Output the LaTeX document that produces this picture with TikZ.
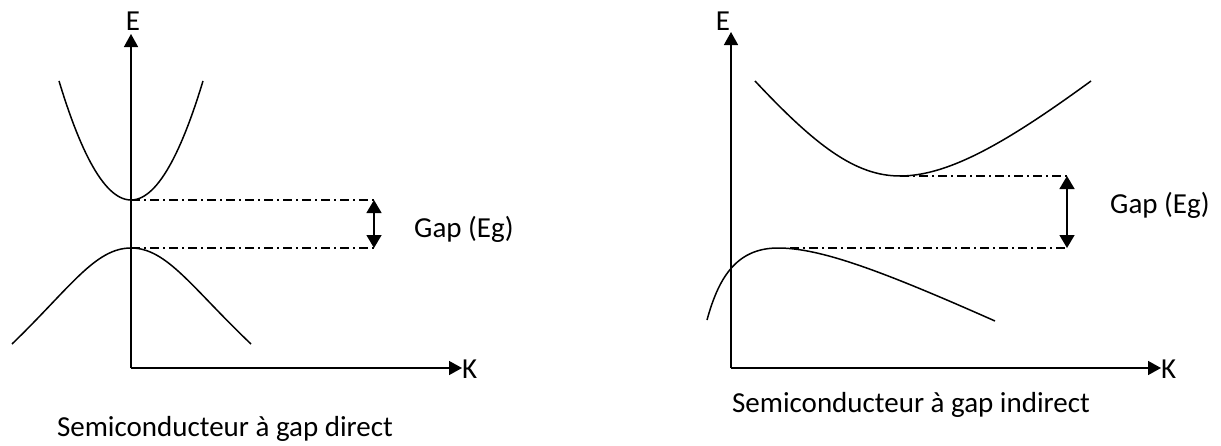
\documentclass[tikz,border=0pt]{standalone}
\usepackage{fontspec}
\setmainfont{Carlito}
\usetikzlibrary{arrows.meta}
\begin{document}
\begin{tikzpicture}[x=1pt,y=-1pt,
  curve/.style={line width=1.5pt},
  axis/.style={line width=1.5pt,-{Triangle[length=13pt,width=14pt]}},
  gaparrow/.style={line width=1.5pt,{Triangle[length=13pt,width=15pt]}-{Triangle[length=13pt,width=15pt]}},
  dashdot/.style={line width=1.1pt,dash pattern=on 9pt off 4pt on 2pt off 4pt},
  lbl/.style={inner sep=0pt,font=\fontsize{29}{34}\selectfont}]
\useasboundingbox (0,0) rectangle (1221,445);
% ---------- left: direct gap ----------
\coordinate (O1) at (131,368);
\coordinate (Ey1) at (131,34);
\coordinate (Kx1) at (462,368);
\draw[axis] (O1) -- (Ey1);
\draw[axis] (O1) -- (Kx1);
\node[lbl] (E1) at (133,21) {E};
\node[lbl,anchor=west] (K1) at (462,369) {K};
\coordinate (cmin1) at (131,200);
\coordinate (vmax1) at (131,248);
\draw[curve] plot[domain=-72:72,samples=60] ({131+\x},{200-0.02296*\x*\x});
\draw[curve] (12,344) .. controls (70,288) and (95,248) .. (vmax1) .. controls (167,248) and (192,288) .. (251,344);
\coordinate (d1a) at (374,200);
\coordinate (d1b) at (374,248);
\draw[dashdot] (cmin1) -- (d1a);
\draw[dashdot] (vmax1) -- (d1b);
\draw[gaparrow] (d1a) -- (d1b);
\node[lbl,anchor=west] (G1) at (414,229) {Gap (Eg)};
\node[lbl] (C1) at (225,429) {Semiconducteur à gap direct};
% ---------- right: indirect gap ----------
\coordinate (O2) at (731,368);
\coordinate (Ey2) at (731,32);
\coordinate (Kx2) at (1161,368);
\draw[axis] (O2) -- (Ey2);
\draw[axis] (O2) -- (Kx2);
\node[lbl] (E2) at (723,21) {E};
\node[lbl,anchor=west] (K2) at (1161,369) {K};
\coordinate (cmin2) at (900,176);
\coordinate (vmax2) at (778,248);
\draw[curve] (755,81) .. controls (815,145) and (855,176) .. (cmin2) .. controls (950,176) and (1010,140) .. (1091,81);
\draw[curve] (707,320) .. controls (718,280) and (735,248) .. (vmax2) .. controls (820,248) and (880,270) .. (995,321);
\coordinate (d2a) at (1067,176);
\coordinate (d2b) at (1067,248);
\draw[dashdot] (cmin2) -- (d2a);
\draw[dashdot] (790,248) -- (d2b);
\draw[gaparrow] (d2a) -- (d2b);
\node[lbl,anchor=west] (G2) at (1110,205) {Gap (Eg)};
\node[lbl] (C2) at (911,405) {Semiconducteur à gap indirect};
\end{tikzpicture}
\end{document}
